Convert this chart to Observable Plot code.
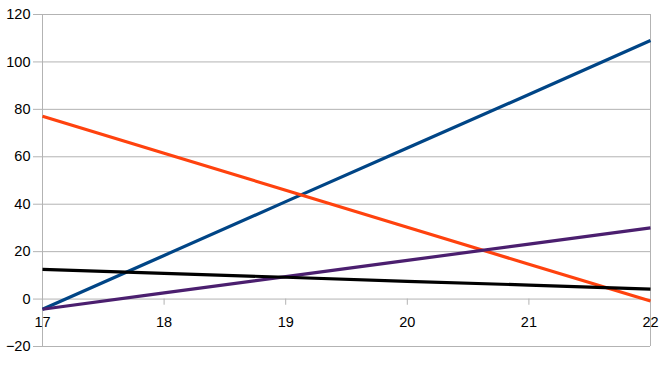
<!DOCTYPE html>
<html>
<head>
<meta charset="utf-8">
<script src="https://cdn.jsdelivr.net/npm/d3@7"></script>
<script src="https://cdn.jsdelivr.net/npm/@observablehq/plot@0.6"></script>
<style>
  html, body { margin: 0; padding: 0; background: #fff; }
  #chart svg { display: block; }
</style>
</head>
<body>
<div id="chart"></div>
<script>
const xValues = [17, 18, 19, 20, 21, 22];
const seriesA = [-4.3, 18.4, 41.1, 63.7, 86.3, 109];
const seriesB = [77.1, 61.5, 45.9, 30.3, 14.7, -0.8];
const seriesC = [-4.3, 2.6, 9.5, 16.3, 23.2, 30.0];
const seriesD = [12.5, 10.8, 9.2, 7.5, 5.9, 4.2];
const seriesNames = ["Series A", "Series B", "Series C", "Series D"];
const seriesColors = ["#004586", "#ff420e", "#4b1f6f", "#000000"];
const xTicks = [17, 18, 19, 20, 21, 22];
const yTicks = [-20, 0, 20, 40, 60, 80, 100, 120];

const allSeries = [seriesA, seriesB, seriesC, seriesD];
const rows = allSeries.flatMap((vals, k) => vals.map((v, i) => ({series: seriesNames[k], x: xValues[i], y: v})));

const grid = "#b3b3b3";
const chart = Plot.plot({
  width: 661,
  height: 366,
  marginLeft: 42,
  marginRight: 11,
  marginTop: 14,
  marginBottom: 20,
  style: {fontFamily: "'Liberation Sans', Arial, sans-serif", fontSize: "14.5px", color: "#000", background: "#fff"},
  x: {domain: [17, 22], axis: null},
  y: {domain: [-20, 120], axis: null},
  color: {domain: seriesNames, range: seriesColors},
  marks: [
    Plot.ruleY(yTicks, {stroke: grid, strokeWidth: 1, strokeOpacity: 1}),
    Plot.ruleX([17, 22], {stroke: grid, strokeWidth: 1}),
    Plot.axisY(yTicks, {tickSize: 9, tickPadding: 3, stroke: grid, strokeOpacity: 1, fill: "#000", label: null, fontSize: 14.5}),
    Plot.ruleX(xTicks, {x: d => d, y1: 0, y2: -2.6, stroke: grid}),
    Plot.text(xTicks, {x: d => d, y: 0, dy: 23, text: d => String(d), fill: "#000", fontSize: 14.5}),
    Plot.line(rows, {x: "x", y: "y", z: "series", stroke: "series", strokeWidth: 3.2, strokeLinecap: "butt"})
  ]
});
document.getElementById("chart").append(chart);
</script>
</body>
</html>
